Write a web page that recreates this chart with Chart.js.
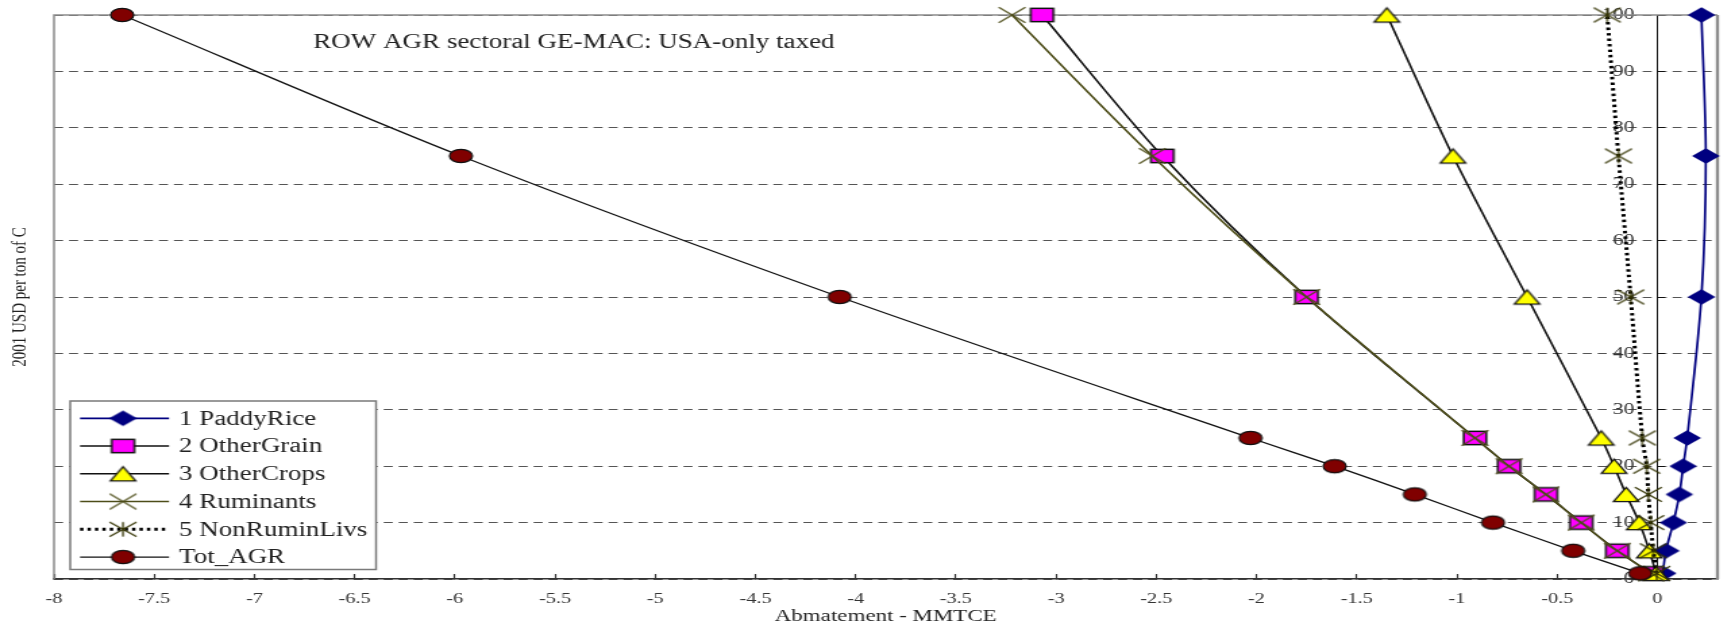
<!DOCTYPE html>
<html>
<head>
<meta charset="utf-8">
<script src="https://cdn.jsdelivr.net/npm/chart.js@4.4.1/dist/chart.umd.min.js"></script>
<style>
  html, body { margin: 0; padding: 0; background: #fff; overflow: hidden; }
  #chart { display: block; }
</style>
</head>
<body>
<canvas id="chart" width="1285" height="628" style="width:1735px;height:628px"></canvas>
<script>
// carbon price levels (y) and abatement per sector (x)
const prices = [1, 5, 10, 15, 20, 25, 50, 75, 100];
const paddyRice = [0.027, 0.043, 0.08, 0.11, 0.129, 0.149, 0.22, 0.242, 0.22];
const otherGrain = [-0.03, -0.2, -0.38, -0.556, -0.74, -0.91, -1.75, -2.47, -3.07];
const otherCrops = [-0.006, -0.04, -0.09, -0.156, -0.216, -0.28, -0.65, -1.02, -1.35];
const ruminants = [-0.03, -0.2, -0.38, -0.556, -0.74, -0.91, -1.75, -2.52, -3.22];
const nonRuminLivs = [-0.003, -0.02, -0.033, -0.045, -0.053, -0.075, -0.133, -0.194, -0.25];
const totAGR = [-0.086, -0.42, -0.82, -1.21, -1.61, -2.03, -4.08, -5.97, -7.66];

const seriesNames = ['1 PaddyRice', '2 OtherGrain', '3 OtherCrops', '4 Ruminants', '5 NonRuminLivs', 'Tot_AGR'];
const chartTitle = 'ROW AGR sectoral GE-MAC: USA-only taxed';
const xTitle = 'Abmatement - MMTCE';
const yTitle = '2001 USD per ton of C';

const FONT = "'Liberation Serif', 'Times New Roman', serif";

// markers are drawn on small canvases (picture is wider than tall)
function marker(w, h, draw) {
  const c = document.createElement('canvas');
  c.width = Math.ceil(w) + 4;
  c.height = Math.ceil(h) + 4;
  const g = c.getContext('2d');
  g.translate(c.width / 2, c.height / 2);
  draw(g, w / 2, h / 2);
  return c;
}

const mDiamond = marker(20.5, 15.5, (g, a, b) => {
  g.beginPath();
  g.moveTo(-a, 0); g.lineTo(0, -b); g.lineTo(a, 0); g.lineTo(0, b); g.closePath();
  g.fillStyle = '#000080'; g.fill();
});
const mSquare = marker(16.8, 13.3, (g, a, b) => {
  g.fillStyle = '#ff00ff';
  g.fillRect(-a, -b, 2 * a, 2 * b);
  g.lineWidth = 1.5; g.strokeStyle = '#111';
  g.strokeRect(-a, -b, 2 * a, 2 * b);
});
const mTriangle = marker(18.7, 14.3, (g, a, b) => {
  g.beginPath();
  g.moveTo(-a, b); g.lineTo(0, -b); g.lineTo(a, b); g.closePath();
  g.fillStyle = '#ffff00'; g.fill();
  g.lineWidth = 1.3; g.strokeStyle = '#111'; g.stroke();
});
const mCross = marker(19.8, 15.5, (g, a, b) => {
  g.beginPath();
  g.moveTo(-a, -b); g.lineTo(a, b); g.moveTo(-a, b); g.lineTo(a, -b);
  g.lineWidth = 1.2; g.strokeStyle = '#4d4d19'; g.stroke();
});
const mStar = marker(20, 14.5, (g, a, b) => {
  g.beginPath();
  g.moveTo(-a, -b); g.lineTo(a, b); g.moveTo(-a, b); g.lineTo(a, -b);
  g.moveTo(0, -b); g.lineTo(0, b);
  g.lineWidth = 1.3; g.strokeStyle = '#333300'; g.stroke();
});
const mEllipse = marker(17, 13.3, (g, a, b) => {
  g.beginPath();
  g.ellipse(0, 0, a, b, 0, 0, Math.PI * 2);
  g.fillStyle = '#800000'; g.fill();
  g.lineWidth = 1.2; g.strokeStyle = '#111'; g.stroke();
});

function pts(xs) {
  return xs.map((x, i) => ({ x: x, y: prices[i] }));
}

function series(i, xs, color, width, style, dash) {
  return {
    label: seriesNames[i],
    data: pts(xs),
    showLine: true,
    borderColor: color,
    borderWidth: width,
    borderDash: dash || [],
    pointStyle: style,
    pointRadius: 10,
    pointHoverRadius: 10,
    tension: 0.3,
    clip: false,
    order: 6 - i
  };
}

const datasets = [
  series(0, paddyRice, '#000080', 1.7, mDiamond),
  series(1, otherGrain, '#111', 1.6, mSquare),
  series(2, otherCrops, '#111', 1.6, mTriangle),
  series(3, ruminants, '#4d4d19', 1.6, mCross),
  series(4, nonRuminLivs, '#000', 3, mStar, [2.5, 3]),
  series(5, totAGR, '#111', 1.3, mEllipse)
];

const decor = {
  id: 'decor',
  beforeDatasetsDraw(chart) {
    const { ctx, chartArea: a } = chart;
    ctx.save();
    ctx.strokeStyle = '#8c8c8c';
    ctx.lineWidth = 1.5;
    ctx.beginPath();
    ctx.moveTo(a.left, a.bottom); ctx.lineTo(a.left, a.top); ctx.lineTo(a.right, a.top);
    ctx.stroke();
    ctx.lineWidth = 2.4;
    ctx.beginPath();
    ctx.moveTo(a.right, a.top); ctx.lineTo(a.right, a.bottom);
    ctx.stroke();
    ctx.restore();
  },
  afterDraw(chart) {
    const ctx = chart.ctx;
    ctx.save();
    ctx.font = '20px ' + FONT;
    ctx.fillStyle = '#222';
    ctx.textBaseline = 'middle';
    ctx.fillText(chartTitle, 232, 43);

    // legend box
    const bx = 52, by = 401, bw = 226.5, bh = 168.5;
    ctx.fillStyle = '#fff';
    ctx.fillRect(bx, by, bw, bh);
    ctx.strokeStyle = '#7a7a7a';
    ctx.lineWidth = 1.5;
    ctx.strokeRect(bx, by, bw, bh);
    chart.data.datasets.forEach((ds, i) => {
      const y = 418.3 + i * 27.75;
      ctx.beginPath();
      ctx.setLineDash(ds.borderDash);
      ctx.strokeStyle = ds.borderColor;
      ctx.lineWidth = ds.borderWidth;
      ctx.moveTo(59.3, y); ctx.lineTo(125.2, y);
      ctx.stroke();
      ctx.setLineDash([]);
      const m = ds.pointStyle;
      ctx.drawImage(m, 91.1 - m.width / 2, y - m.height / 2);
      ctx.fillStyle = '#222';
      ctx.font = '20px ' + FONT;
      ctx.fillText(ds.label, 132.6, y + 1);
    });
    ctx.restore();
  }
};

new Chart(document.getElementById('chart'), {
  type: 'scatter',
  data: { datasets: datasets },
  options: {
    responsive: false,
    devicePixelRatio: 1,
    animation: false,
    layout: { padding: { left: 0, right: 9.4, top: 15, bottom: 0 } },
    plugins: {
      legend: { display: false },
      tooltip: { enabled: false }
    },
    scales: {
      x: {
        type: 'linear',
        min: -8,
        max: 0.3,
        border: { display: true, color: '#333', width: 1.5 },
        grid: { display: true, drawOnChartArea: false, drawTicks: true, tickLength: -5, tickColor: '#333', tickWidth: 1.2 },
        ticks: {
          stepSize: 0.5,
          includeBounds: false,
          padding: 15.7,
          color: '#333',
          font: { family: FONT, size: 15 },
          maxRotation: 0,
          callback: (v) => String(v)
        },
        title: {
          display: true,
          text: xTitle,
          color: '#222',
          font: { family: FONT, size: 17 },
          padding: { top: -16.6, bottom: 0.8 }
        }
      },
      y: {
        type: 'linear',
        position: { x: 0 },
        min: 0,
        max: 100,
        border: { display: true, color: '#111', width: 1, dash: [6.7, 4.4] },
        grid: {
          color: '#555',
          lineWidth: 1,
          drawTicks: true,
          tickLength: -6,
          tickColor: '#111',
          tickBorderDash: [],
          tickWidth: 1
        },
        ticks: { display: false, stepSize: 10 }
      },
      yLabels: {
        type: 'linear',
        axis: 'y',
        position: { x: -0.114 },
        min: 0,
        max: 100,
        display: true,
        border: { display: false },
        grid: { display: false, drawTicks: false },
        ticks: {
          stepSize: 10,
          color: '#333',
          font: { family: FONT, size: 16 }
        }
      },
      yTitle: {
        type: 'linear',
        axis: 'y',
        position: 'left',
        display: true,
        grid: { display: false, drawTicks: false },
        border: { display: false },
        ticks: { display: false },
        title: {
          display: true,
          text: yTitle,
          color: '#222',
          font: { family: FONT, size: 15 },
          padding: { top: 6, bottom: 16 }
        }
      }
    }
  },
  plugins: [decor]
});
</script>
</body>
</html>
